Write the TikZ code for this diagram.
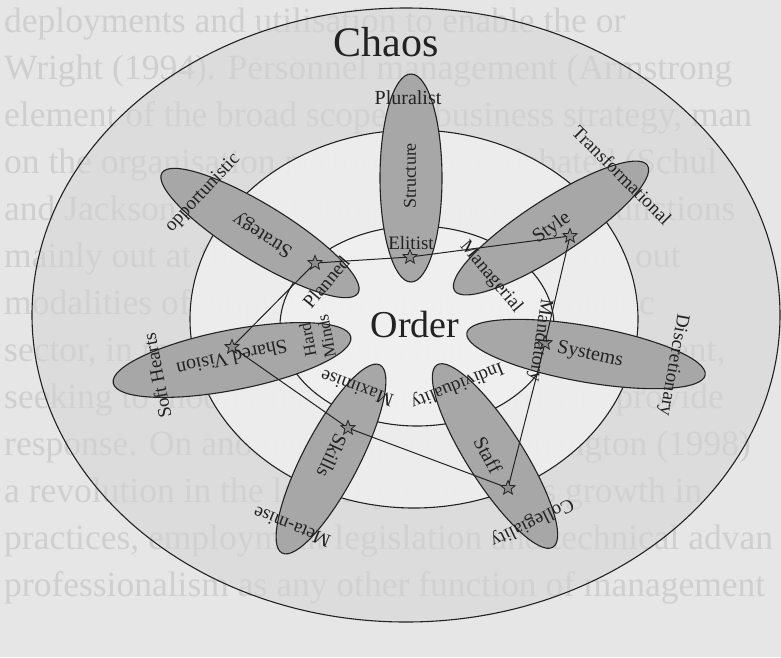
\documentclass[tikz,border=0pt]{standalone}
\usepackage{fontspec}
\setmainfont{Liberation Serif}
\usetikzlibrary{shapes.geometric}
\definecolor{paper}{HTML}{E6E6E6}
\definecolor{bgink}{HTML}{CFCFCF}
\definecolor{band}{HTML}{D4D4D4}
\definecolor{midfill}{HTML}{EEEEEE}
\definecolor{innerfill}{HTML}{F1F1F1}
\definecolor{petalgray}{HTML}{A7A7A7}
\definecolor{ink}{HTML}{222222}
\begin{document}
\begin{tikzpicture}[x=1pt,y=-1pt,
  ring/.style={draw=ink, line width=1.1pt},
  petal/.style={draw=ink, line width=1.1pt, fill=petalgray},
  link/.style={draw=ink, line width=1pt},
  starmark/.style={star, star points=5, star point ratio=2.3, draw=ink, fill=black!45, line width=0.8pt, minimum size=15pt, inner sep=0pt},
  lbl/.style={font=\fontsize{19}{20}\selectfont, inner sep=0pt, text=ink},
  mainlbl/.style={font=\fontsize{20}{21}\selectfont, inner sep=0pt, text=ink},
  bgtext/.style={anchor=base west, inner sep=0pt, font=\fontsize{35.5}{40}\selectfont, text=bgink}
]
\useasboundingbox (0,0) rectangle (781,657);
\begin{scope}
\clip (0,0) rectangle (781,657);
\fill[paper] (0,0) rectangle (781,657);
% faint page text behind the figure
\node[bgtext] (t1) at (4,32) {deployments and utilisation to enable the or};
\node[bgtext] (t2) at (4,79) {Wright (1994). Personnel management (Armstrong};
\node[bgtext] (t3) at (4,126) {element of the broad scope of business strategy, man};
\node[bgtext] (t4) at (4,173) {on the organisation performance is debated (Schul};
\node[bgtext] (t5) at (4,220) {and Jackson 1987). Ultimately, personnel functions};
\node[bgtext] (t6) at (4,267) {mainly out at the operational level, carrying out};
\node[bgtext] (t7) at (4,314) {modalities of employee relations in the public};
\node[bgtext] (t8) at (4,361) {sector, in the context of the changing environment,};
\node[bgtext] (t9) at (4,408) {seeking to modify its structures in order to provide};
\node[bgtext] (t10) at (4,455) {response. On another perspective, Torrington (1998)};
\node[bgtext] (t11) at (4,502) {a revolution in the last fifty years of its growth in};
\node[bgtext] (t12) at (4,549) {practices, employment legislation and technical advan};
\node[bgtext] (t13) at (4,596) {professionalism as any other function of management};
% rings
\fill[band, opacity=0.55] (406,315) ellipse [x radius=374, y radius=307];
\fill[midfill, opacity=0.93] (414,319) ellipse [x radius=224, y radius=189];
\fill[innerfill, opacity=0.6] (417,326) ellipse [x radius=137, y radius=100];
\draw[ring] (406,315) ellipse [x radius=374, y radius=307];
\draw[ring] (414,319) ellipse [x radius=224, y radius=189];
\draw[ring] (417,326) ellipse [x radius=137, y radius=100];
\end{scope}
% petals
\draw[petal, rotate around={90:(411,178)}] (411,178) ellipse [x radius=104, y radius=31];
\draw[petal, rotate around={33:(551,228)}] (551,228) ellipse [x radius=115, y radius=28];
\draw[petal, rotate around={-10:(586,354)}] (586,354) ellipse [x radius=121, y radius=28];
\draw[petal, rotate around={-57.5:(495,456)}] (495,456) ellipse [x radius=108, y radius=28];
\draw[petal, rotate around={-117.5:(331,459)}] (331,459) ellipse [x radius=106, y radius=28];
\draw[petal, rotate around={-169:(232,360)}] (232,360) ellipse [x radius=121, y radius=30];
\draw[petal, rotate around={148.5:(260,233)}] (260,233) ellipse [x radius=115, y radius=28];
% star positions
\coordinate (p1) at (410,257);
\coordinate (p2) at (570,236);
\coordinate (p3) at (545,343);
\coordinate (p4) at (508,488);
\coordinate (p5) at (348,428);
\coordinate (p6) at (232,347);
\coordinate (p7) at (315,263);
\draw[link] (p1) -- (p2) -- (p3) -- (p4) -- (p5) -- (p6) -- (p7) -- (p1);
\foreach \i in {1,...,7} {\node[starmark] (s\i) at (p\i) {};}
% titles
\node[font=\fontsize{42}{44}\selectfont, inner sep=0pt, text=ink] (chaos) at (386,42) {Chaos};
\node[font=\fontsize{38}{40}\selectfont, inner sep=0pt, text=ink] (order) at (415,324) {Order};
% Structure
\node[mainlbl, font=\fontsize{18}{19}\selectfont, rotate=90] (structure) at (410,176) {Structure};
\node[lbl, font=\fontsize{20}{21}\selectfont] (pluralist) at (408,98) {Pluralist};
\node[lbl] (elitist) at (411,243) {Elitist};
% Style
\node[mainlbl, rotate=36] (style) at (552,228) {Style};
\node[lbl, rotate=-45] (transformational) at (622,175) {Transformational};
\node[lbl, rotate=-50] (managerial) at (491,277) {Managerial};
% Systems
\node[mainlbl, rotate=-12] (systems) at (590,355) {Systems};
\node[lbl, rotate=-100] (discretionary) at (673,365) {Discretionary};
\node[lbl, rotate=-98] (mandatory) at (540,340) {Mandatory};
% Staff
\node[mainlbl, rotate=-62] (staff) at (488,455) {Staff};
\node[lbl, rotate=-154] (collegiality) at (532,522) {Collegiality};
\node[lbl, rotate=-158] (individuality) at (457,385) {Individuality};
% Skills
\node[mainlbl, rotate=-115] (skills) at (332,456) {Skills};
\node[lbl, rotate=158] (metamise) at (292,527) {Meta-mise};
\node[lbl, rotate=160] (maximise) at (357,388) {Maximise};
% Shared Vision
\node[mainlbl, rotate=-168] (sharedvision) at (232,358) {Shared Vision};
\node[lbl, rotate=101] (softhearts) at (157,376) {Soft Hearts};
\node[lbl, rotate=101, align=center, font=\fontsize{17}{19}\selectfont] (hardminds) at (317,338) {Hard\\Minds};
% Strategy
\node[mainlbl, rotate=148] (strategy) at (263,235) {Strategy};
\node[lbl, rotate=47] (opportunistic) at (203,193) {opportunistic};
\node[lbl, rotate=50] (planned) at (326,282) {Planned};
\end{tikzpicture}
\end{document}
